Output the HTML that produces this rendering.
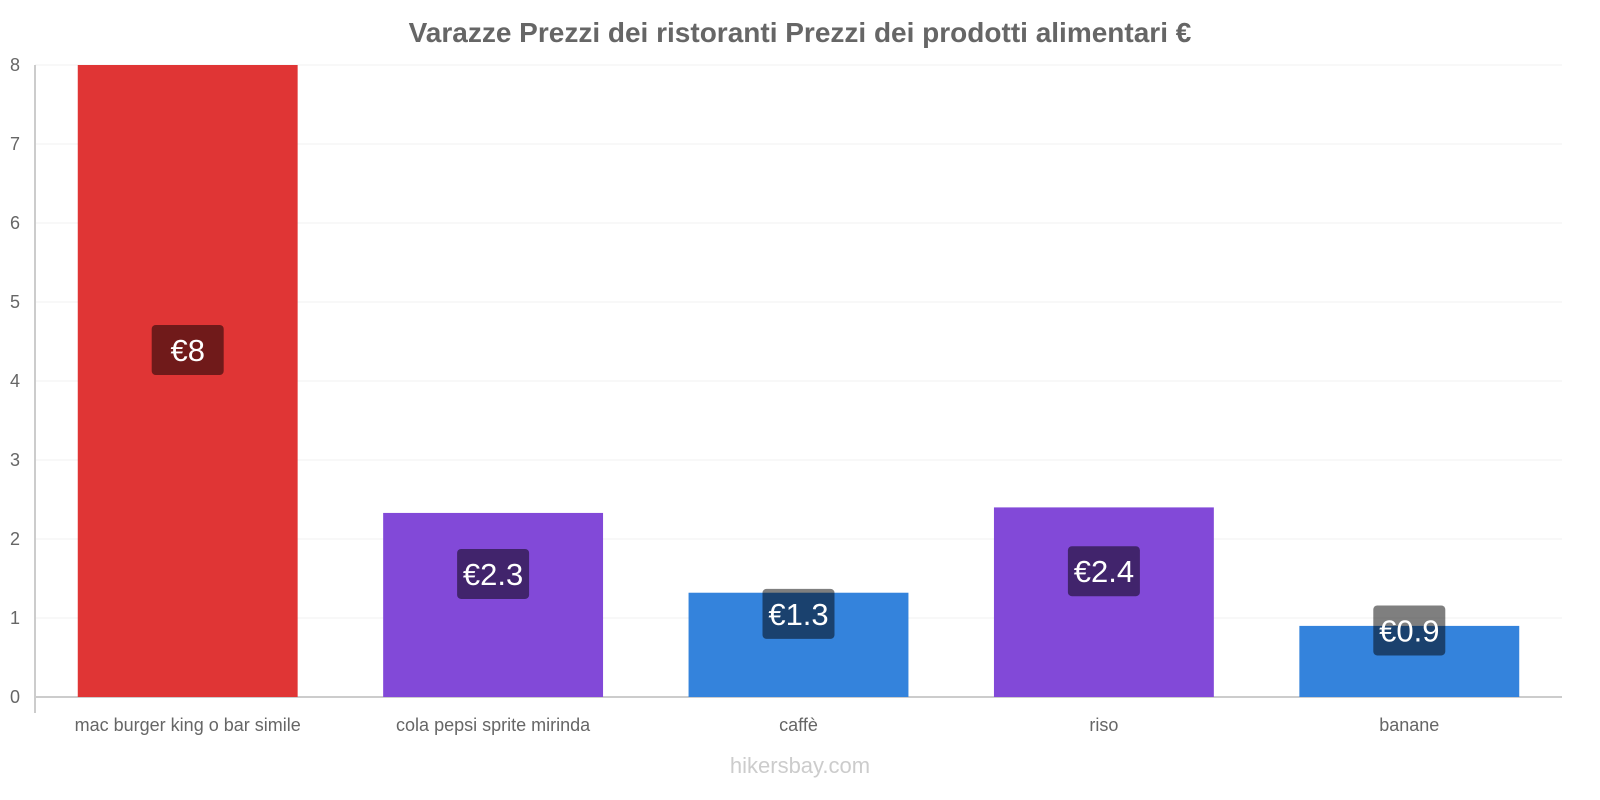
<!DOCTYPE html>
<html><head><meta charset="utf-8"><style>
body{margin:0;background:#fff;}
svg{display:block;font-family:"Liberation Sans",Arial,sans-serif;}
</style></head><body>
<svg id="chart" width="1600" height="800">
<text x="800" y="42" text-anchor="middle" font-size="28" font-weight="bold" fill="#666">Varazze Prezzi dei ristoranti Prezzi dei prodotti alimentari €</text>
<g id="grid"></g><g id="bars"></g><g id="labels"></g>
<text x="800" y="773" text-anchor="middle" font-size="22" fill="#ccc">hikersbay.com</text>
</svg>
<script>
const categories=["mac burger king o bar simile","cola pepsi sprite mirinda","caffè","riso","banane"];
const values=[8,2.33,1.32,2.4,0.9];
const valueLabels=["€8","€2.3","€1.3","€2.4","€0.9"];
const colors=["#e03535","#8249d8","#3483dc","#8249d8","#3483dc"];
const yTicks=[0,1,2,3,4,5,6,7,8];
const NS="http://www.w3.org/2000/svg";
const x0=35,x1=1562,yBase=697,yTop=65,yMax=8;
const y=v=>yBase-(yBase-yTop)*v/yMax;
const band=(x1-x0)/categories.length;
const xc=i=>x0+band*(i+0.5);
function mk(t,a,p){const e=document.createElementNS(NS,t);for(const k in a)e.setAttribute(k,a[k]);p.appendChild(e);return e;}
const g=document.getElementById('grid'),b=document.getElementById('bars'),l=document.getElementById('labels');
yTicks.forEach(t=>{
 const ln=mk('line',{x1:x0,x2:x1,y1:y(t),y2:y(t),stroke:t===0?'#ccc':'#f0f0f0','stroke-width':t===0?2:1},g);
 
 
 const tx=mk('text',{x:20,y:y(t)+6,'text-anchor':'end','font-size':18,fill:'#666'},g);
 tx.textContent=t;
 
 
});
const ax=mk('line',{x1:x0,x2:x0,y1:yTop,y2:yBase+16,stroke:'#ccc','stroke-width':2},g);


const bw=band*0.72;
categories.forEach((c,i)=>{
 const r=mk('rect',{x:xc(i)-bw/2,y:y(values[i]),width:bw,height:yBase-y(values[i]),fill:colors[i]},b);
 
 
 const ct=mk('text',{x:xc(i),y:731,'text-anchor':'middle','font-size':18,fill:'#666'},l);
 ct.textContent=c;
 
 
 const cy=(y(values[i])+yBase)/2-31;
 const bx=mk('rect',{x:xc(i)-36,y:cy-25,width:72,height:50,rx:4,fill:'rgba(0,0,0,0.5)'},l);
 
 
 const vt=mk('text',{x:xc(i),y:cy+11,'text-anchor':'middle','font-size':31,fill:'#fff'},l);
 vt.textContent=valueLabels[i];
 
 
});
</script>
</body></html>
